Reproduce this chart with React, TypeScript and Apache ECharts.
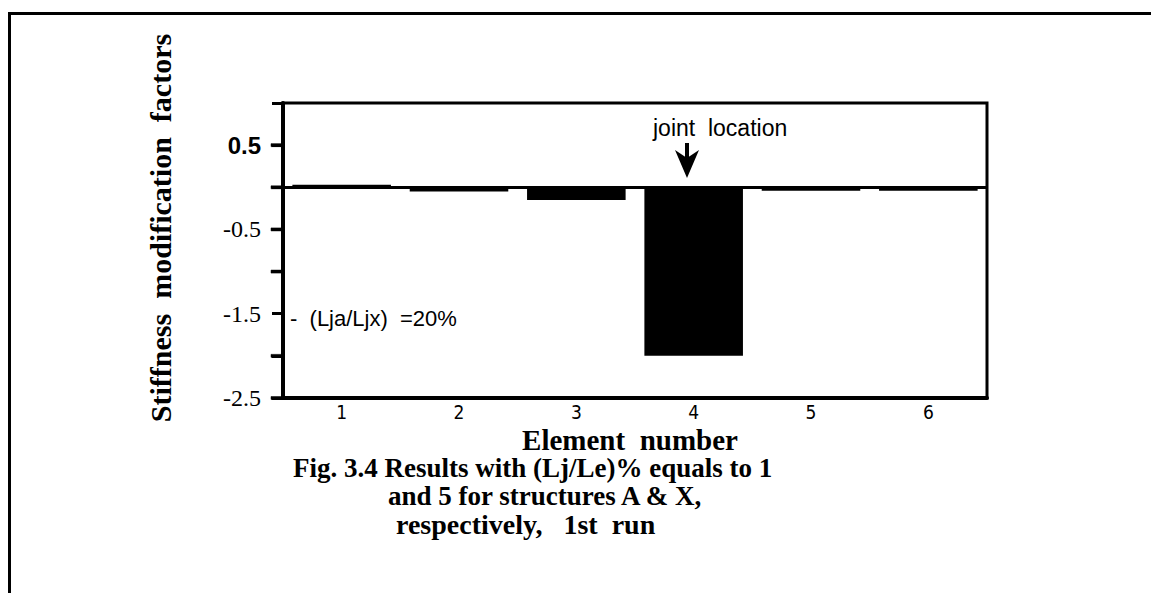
import React, { useEffect, useRef } from "react";
import * as echarts from "echarts";

const categories = ["1", "2", "3", "4", "5", "6"];
const factors = [0.03, -0.05, -0.15, -2.0, -0.04, -0.04];
const yTickValues = [0.5, 0, -0.5, -1, -2, -2.5];
const shownYLabels = [0.5, -0.5, -1.5, -2.5];
const yAxisTitle = "Stiffness  modification  factors";
const xAxisTitle = "Element  number";
const captionLines = [
  "Fig. 3.4 Results with (Lj/Le)% equals to 1",
  "and 5 for structures A & X,",
  "respectively,   1st  run",
];
const jointNote = "joint  location";
const ratioNote = "-  (Lja/Ljx)  =20%";

export default function App() {
  const ref = useRef<HTMLDivElement>(null);
  useEffect(() => {
    if (!ref.current) return;
    const chart = echarts.init(ref.current, null, { renderer: "svg" });
    const serif = '"Liberation Serif", "Times New Roman", serif';
    const sans = '"Liberation Sans", Arial, sans-serif';
    const gridLeft = 283;
    chart.setOption({
      animation: false,
      backgroundColor: "#ffffff",
      grid: {
        left: gridLeft,
        top: 103,
        right: 164,
        bottom: 195,
        show: true,
        borderColor: "#000",
        borderWidth: 3,
        backgroundColor: "transparent",
      },
      xAxis: {
        type: "category",
        data: categories,
        axisLine: { show: true, onZero: false, lineStyle: { color: "#000", width: 4 } },
        axisTick: { show: false },
        axisLabel: {
          color: "#000",
          fontSize: 19,
          fontFamily: '"DejaVu Sans Condensed", "Liberation Sans Narrow", sans-serif',
          margin: 4,
        },
        splitLine: { show: false },
      },
      yAxis: {
        type: "value",
        min: -2.5,
        max: 1,
        interval: 0.5,
        axisLine: { show: true, onZero: false, lineStyle: { color: "#000", width: 4 } },
        axisTick: { show: true, length: 11, lineStyle: { color: "#000", width: 3 } },
        splitLine: { show: false },
        axisLabel: {
          margin: 22,
          fontSize: 24,
          color: "#000",
          formatter: (v: number) => {
            const hit = shownYLabels.find((s) => Math.abs(s - v) < 1e-6);
            if (hit === undefined) return "";
            return hit > 0 ? `{p|${hit}}` : `{n|${hit}}`;
          },
          rich: {
            p: { fontFamily: sans, fontWeight: "bold", fontSize: 24, color: "#000" },
            n: { fontFamily: serif, fontSize: 24, color: "#000" },
          },
        },
      },
      series: [
        {
          type: "bar",
          data: factors,
          barWidth: "84%",
          itemStyle: { color: "#000" },
          markLine: {
            silent: true,
            symbol: "none",
            label: { show: false },
            lineStyle: { color: "#000", width: 3, type: "solid" },
            data: [{ yAxis: 0 }],
          },
        },
      ],
    });

    const tickMarks = yTickValues.map((v) => {
      const y = chart.convertToPixel({ yAxisIndex: 0 }, v) as number;
      return {
        type: "polygon",
        z: 1000,
        shape: { points: [[gridLeft - 12, y - 1.5], [gridLeft + 1, y - 1.5], [gridLeft + 1, y + 1.5], [gridLeft - 12, y + 1.5]] },
        style: { fill: "#000", stroke: "#000", lineWidth: 0.5 },
      };
    });

    chart.setOption({
      graphic: [
        { type: "line", shape: { x1: 8, y1: 13.5, x2: 1151, y2: 13.5 }, style: { stroke: "#000", lineWidth: 3 } },
        { type: "line", shape: { x1: 9.5, y1: 13, x2: 9.5, y2: 593 }, style: { stroke: "#000", lineWidth: 3 } },
        ...tickMarks,
        {
          type: "text",
          x: 160,
          y: 228,
          rotation: Math.PI / 2,
          style: {
            text: yAxisTitle,
            fontFamily: serif,
            fontWeight: "bold",
            fontSize: 30,
            fill: "#000",
            align: "center",
            verticalAlign: "middle",
          },
        },
        {
          type: "text",
          x: 630,
          y: 440,
          style: {
            text: xAxisTitle,
            fontFamily: serif,
            fontWeight: "bold",
            fontSize: 29,
            fill: "#000",
            align: "center",
            verticalAlign: "middle",
          },
        },
        ...captionLines.map((t, i) => ({
          type: "text",
          x: [293, 388, 396][i],
          y: [468, 496, 524][i],
          style: {
            text: t,
            fontFamily: serif,
            fontWeight: "bold",
            fontSize: [27, 27, 28][i],
            fill: "#000",
            align: "left",
            verticalAlign: "middle",
          },
        })),
        {
          type: "text",
          x: 653,
          y: 128,
          style: { text: jointNote, fontFamily: sans, fontSize: 23, fill: "#000", align: "left", verticalAlign: "middle" },
        },
        {
          type: "text",
          x: 290,
          y: 318,
          style: { text: ratioNote, fontFamily: sans, fontSize: 22, fill: "#000", align: "left", verticalAlign: "middle" },
        },
        { type: "line", shape: { x1: 687, y1: 143, x2: 687, y2: 162 }, style: { stroke: "#000", lineWidth: 4 } },
        {
          type: "polygon",
          shape: { points: [[675, 150], [687, 158], [699, 150], [687, 178]] },
          style: { fill: "#000" },
        },
      ],
    });
    return () => chart.dispose();
  }, []);
  return (
    <div
      ref={ref}
      style={{ position: "fixed", left: 0, top: 0, width: 1151, height: 593, background: "#fff" }}
    />
  );
}
